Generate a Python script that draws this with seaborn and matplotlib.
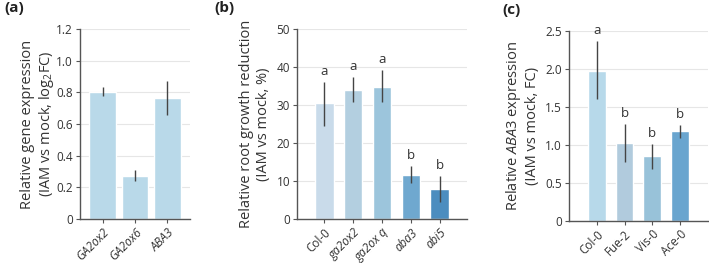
import numpy as np
import matplotlib
matplotlib.use("Agg")
import matplotlib.pyplot as plt
import seaborn as sns

# (a) relative gene expression, log2FC
genes_a = ["GA2ox2", "GA2ox6", "ABA3"]
mean_a = [0.805, 0.274, 0.766]
low_a = [0.779, 0.238, 0.659]
high_a = [0.834, 0.307, 0.874]

# (b) relative root growth reduction, %
lines_b = ["Col-0", "ga2ox2", "ga2ox q", "aba3", "abi5"]
mean_b = [30.4, 34.0, 34.7, 11.7, 7.9]
low_b = [24.6, 30.7, 30.7, 9.5, 4.6]
high_b = [36.1, 37.3, 39.3, 13.9, 11.4]
letters_b = ["a", "a", "a", "b", "b"]

# (c) relative ABA3 expression, FC
acc_c = ["Col-0", "Fue-2", "Vis-0", "Ace-0"]
mean_c = [1.98, 1.03, 0.85, 1.18]
low_c = [1.60, 0.78, 0.68, 1.09]
high_c = [2.37, 1.28, 1.01, 1.26]
letters_c = ["a", "b", "b", "b"]

sns.set_theme(style="white")
plt.rcParams["font.family"] = ["Open Sans", "DejaVu Sans"]
plt.rcParams["mathtext.fontset"] = "custom"
plt.rcParams["mathtext.rm"] = "Open Sans"
plt.rcParams["mathtext.it"] = "Open Sans:italic"

fig = plt.figure(figsize=(7.09, 2.63), dpi=100)
ax_a = fig.add_axes([0.1128, 0.1673, 0.1552, 0.7224])
ax_b = fig.add_axes([0.4189, 0.1673, 0.2398, 0.7224])
ax_c = fig.add_axes([0.8025, 0.1597, 0.1961, 0.7224])

spine_col = "#555555"
text_col = "#333333"


def draw(ax, cats, means, lows, highs, colors, width, xlim, ylim, yticks,
         ylabels, ylabel, italic, letters=None, letter_pad=0.0, labelpad=4):
    sns.barplot(x=cats, y=means, hue=cats, palette=colors, legend=False,
                width=width, saturation=1, ax=ax, zorder=2)
    x = np.arange(len(cats))
    m = np.array(means)
    err = [m - np.array(lows), np.array(highs) - m]
    ax.errorbar(x, m, yerr=err, fmt="none", ecolor="#444444", elinewidth=1,
                capsize=0, zorder=3)
    if letters:
        for xi, hi, lt in zip(x, highs, letters):
            ax.text(xi, hi + letter_pad, lt, ha="center", va="bottom",
                    fontsize=9.5, color=text_col)
    ax.set_xlim(*xlim)
    ax.set_ylim(*ylim)
    ax.set_yticks(yticks)
    ax.set_yticklabels(ylabels)
    ax.yaxis.grid(True, color="#e6e6e6", linewidth=0.8, zorder=0)
    ax.set_axisbelow(True)
    ax.set_xlabel("")
    ax.set_ylabel(ylabel, fontsize=10.5, color=text_col, labelpad=labelpad,
                  linespacing=1.15)
    ax.set_xticks(x)
    ax.set_xticklabels(cats, rotation=45, ha="right", rotation_mode="anchor",
                       fontsize=8.5, color=text_col,
                       style="italic" if italic else "normal")
    if isinstance(italic, list):
        for t, it in zip(ax.get_xticklabels(), italic):
            t.set_style("italic" if it else "normal")
    for s in ["top", "right"]:
        ax.spines[s].set_visible(False)
    for s in ["left", "bottom"]:
        ax.spines[s].set_color(spine_col)
        ax.spines[s].set_linewidth(1)
    ax.tick_params(axis="both", which="both", direction="out", length=3,
                   width=0.8, color=spine_col, labelsize=8.5,
                   labelcolor=text_col, pad=2, bottom=True, left=True)


draw(ax_a, genes_a, mean_a, low_a, high_a, ["#b9d9e9"] * 3, 0.82,
     (-0.7, 2.7), (0, 1.2), [0, 0.2, 0.4, 0.6, 0.8, 1.0, 1.2],
     ["0", "0.2", "0.4", "0.6", "0.8", "1.0", "1.2"],
     "Relative gene expression\n(IAM vs mock, log$_2$FC)", True,
     labelpad=0)

draw(ax_b, lines_b, mean_b, low_b, high_b,
     ["#c9dbea", "#b3cfe0", "#9cc5dc", "#6fa8cf", "#4c8dbf"], 0.64,
     (-0.95, 4.95), (0, 50), [0, 10, 20, 30, 40, 50],
     ["0", "10", "20", "30", "40", "50"],
     "Relative root growth reduction\n(IAM vs mock, %)",
     [False, True, True, True, True], letters_b, 1.0)

draw(ax_c, acc_c, mean_c, low_c, high_c,
     ["#b7d9ea", "#b1cbdd", "#98c2d9", "#69a5cf"], 0.64,
     (-1.0, 4.0), (0, 2.5), [0, 0.5, 1.0, 1.5, 2.0, 2.5],
     ["0", "0.5", "1.0", "1.5", "2.0", "2.5"],
     "Relative $\\it{ABA3}$ expression\n(IAM vs mock, FC)", False,
     letters_c, 0.05)

fig.text(0.006, 0.955, "(a)", fontsize=11, fontweight="bold", color="#222222")
fig.text(0.303, 0.955, "(b)", fontsize=11, fontweight="bold", color="#222222")
fig.text(0.708, 0.945, "(c)", fontsize=11, fontweight="bold", color="#222222")

fig.savefig("out.png", dpi=100)
